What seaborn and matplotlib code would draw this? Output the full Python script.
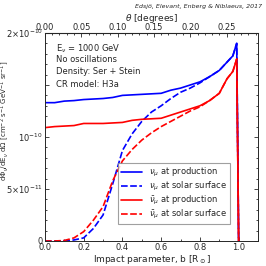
import matplotlib
matplotlib.use("Agg")
import matplotlib.pyplot as plt
import seaborn as sns
import pandas as pd
from matplotlib.ticker import MultipleLocator, FixedLocator

# impact parameter grid (units of R_sun)
b = [0, 0.05, 0.1, 0.15, 0.2, 0.25, 0.3, 0.35, 0.4, 0.45, 0.5, 0.55, 0.6,
     0.65, 0.7, 0.75, 0.8, 0.85, 0.9, 0.94, 0.97, 0.99, 1.0]

# fluxes in units of 1e-10
nu_prod = [1.33, 1.33, 1.345, 1.35, 1.36, 1.365, 1.37, 1.38, 1.40, 1.405, 1.41, 1.415, 1.42,
           1.45, 1.47, 1.50, 1.53, 1.58, 1.64, 1.72, 1.78, 1.90, 0]
nu_surf = [0, 0, 0.002, 0.01, 0.03, 0.12, 0.25, 0.55, 0.87, 1.03, 1.15, 1.24, 1.30,
           1.37, 1.43, 1.47, 1.52, 1.58, 1.64, 1.72, 1.78, 1.90, 0]
nubar_prod = [1.09, 1.10, 1.105, 1.11, 1.13, 1.13, 1.13, 1.135, 1.14, 1.16, 1.17, 1.175, 1.18,
              1.21, 1.24, 1.27, 1.30, 1.35, 1.42, 1.56, 1.63, 1.75, 0]
nubar_surf = [0, 0, 0.005, 0.03, 0.09, 0.20, 0.33, 0.58, 0.77, 0.88, 0.97, 1.04, 1.10,
              1.15, 1.20, 1.25, 1.29, 1.35, 1.42, 1.56, 1.63, 1.75, 0]

labels = [r"$\nu_\mu$ at production", r"$\nu_\mu$ at solar surface",
          r"$\bar{\nu}_\mu$ at production", r"$\bar{\nu}_\mu$ at solar surface"]
series = [nu_prod, nu_surf, nubar_prod, nubar_surf]

rows = []
for lab, vals in zip(labels, series):
    for bi, v in zip(b, vals):
        rows.append({"b": bi, "flux": v * 1e-10, "series": lab})
df = pd.DataFrame(rows)

sns.set_style("ticks")
plt.rcParams["font.family"] = ["DejaVu Sans"]
plt.rcParams["font.size"] = 6

fig = plt.figure(figsize=(2.66, 2.66), dpi=100)
ax = fig.add_axes([0.169, 0.094, 0.801, 0.782])

palette = {labels[0]: "#0000ff", labels[1]: "#0000ff", labels[2]: "#ff0000", labels[3]: "#ff0000"}
dashes = {labels[0]: "", labels[1]: (4, 1.5), labels[2]: "", labels[3]: (4, 1.5)}
sns.lineplot(data=df, x="b", y="flux", hue="series", style="series", palette=palette,
             dashes=dashes, hue_order=labels, style_order=labels, sort=False,
             lw=1.2, ax=ax)

ax.set_xlim(0, 1.1)
ax.set_ylim(0, 2e-10)
ax.yaxis.set_major_locator(FixedLocator([0, 5e-11, 1e-10, 1.5e-10, 2e-10]))
ax.set_yticklabels(["0", r"5$\times$10$^{-11}$", r"10$^{-10}$", "", r"2$\times$10$^{-10}$"])
ax.yaxis.set_minor_locator(MultipleLocator(1e-11))
ax.xaxis.set_major_locator(MultipleLocator(0.2))
ax.xaxis.set_minor_locator(MultipleLocator(0.1))
ax.tick_params(which="both", direction="in", top=False, right=True, labelsize=6, pad=1.5,
               width=0.6)
ax.tick_params(which="major", length=3)
ax.tick_params(which="minor", length=1.5)
for s in ax.spines.values():
    s.set_linewidth(0.7)

ax.set_xlabel(r"Impact parameter, b [R$_\odot$]", fontsize=6.5, labelpad=1)
ax.set_ylabel(r"d$\Phi_\nu$/dE$_\nu$ d$\Omega$ [cm$^{-2}$ s$^{-1}$ GeV$^{-1}$ sr$^{-1}$]",
              fontsize=5)
ax.yaxis.set_label_coords(-0.16, 0.58)

secax = ax.secondary_xaxis("top", functions=(lambda x: x * 0.2666, lambda t: t / 0.2666))
secax.xaxis.set_major_locator(MultipleLocator(0.05))
secax.xaxis.set_minor_locator(MultipleLocator(0.01))
secax.tick_params(which="both", direction="in", labelsize=6, pad=0.5, width=0.6)
secax.tick_params(which="major", length=3)
secax.tick_params(which="minor", length=1.5)
secax.set_xlabel(r"$\theta$ [degrees]", fontsize=6.5, labelpad=1.5)

notes = [r"E$_\nu$ = 1000 GeV", "No oscillations", "Density: Ser + Stein", "CR model: H3a"]
for i, t in enumerate(notes):
    ax.text(0.05, 0.955 - i * 0.06, t, transform=ax.transAxes, fontsize=6, va="top")

fig.text(0.985, 0.985, "Edsjö, Elevant, Enberg & Niblaeus, 2017", ha="right", va="top",
         fontsize=4.5, style="italic")

leg = ax.legend(loc="lower right", bbox_to_anchor=(0.89, 0.06), fontsize=6,
                frameon=True, fancybox=False, handlelength=2.5, labelspacing=0.1,
                borderpad=0.4, handletextpad=0.8)
leg.get_frame().set_edgecolor("#888888")
leg.get_frame().set_linewidth(0.8)

fig.savefig("out.png", dpi=100)
